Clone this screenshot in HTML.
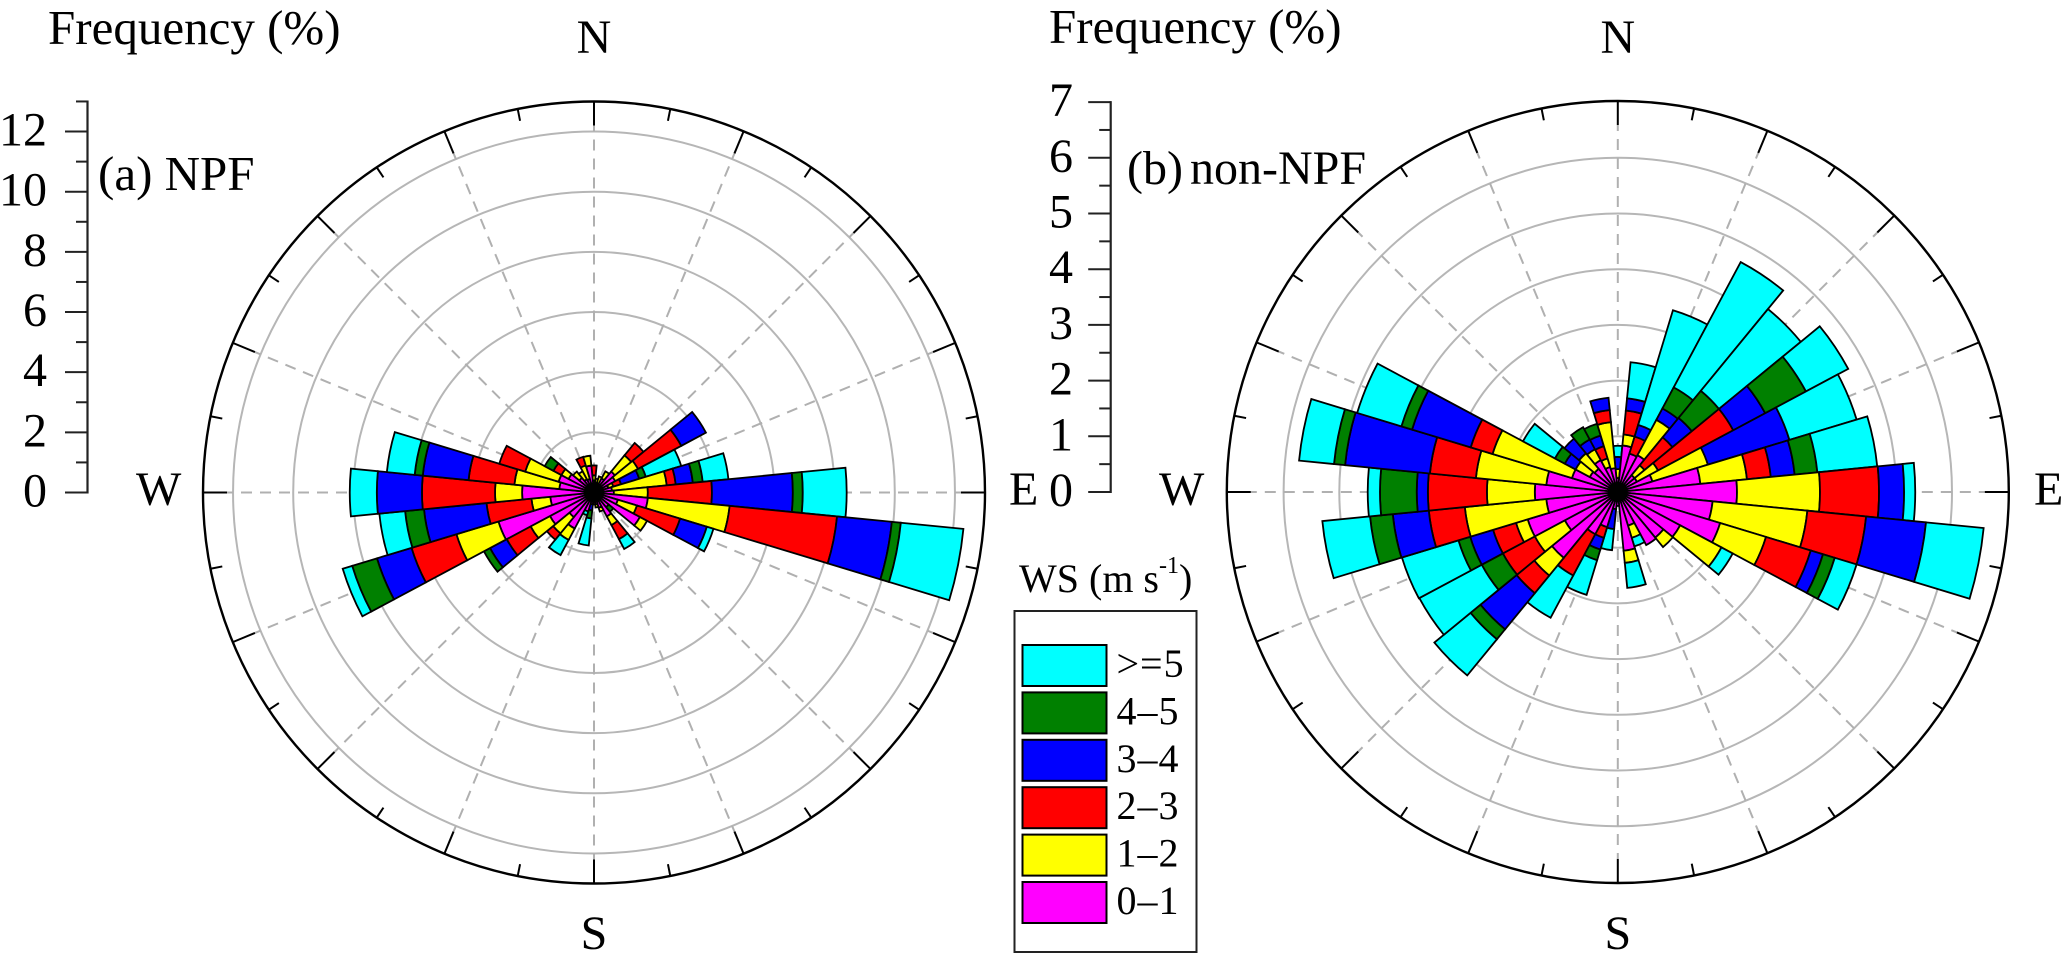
<!DOCTYPE html>
<html>
<head>
<meta charset="utf-8">
<title>Wind rose: NPF and non-NPF</title>
<style>
html,body{margin:0;padding:0;background:#fff;}
svg{display:block;}
text{font-family:"Liberation Serif",serif;fill:#000;}
</style>
</head>
<body>
<svg id="fig" xmlns="http://www.w3.org/2000/svg" width="2067" height="970" viewBox="0 0 2067 970">
<rect x="0" y="0" width="2067" height="970" fill="#fff"/>
<text x="48" y="44" font-size="49">Frequency (%)</text>
<text x="1049" y="43" font-size="49">Frequency (%)</text>
<text x="98" y="190" font-size="49">(a) NPF</text>
<text x="1127" y="184" font-size="48" word-spacing="-5">(b) non-NPF</text>
<text x="1019" y="592" font-size="40">WS (m s<tspan dy="-19" font-size="24">-1</tspan><tspan dy="19">)</tspan></text>
<rect x="1014.5" y="611" width="182" height="341" fill="#fff" stroke="#222" stroke-width="2"/>
</svg>
<script>
// Sector count and wind-speed classes
const sectorCount = 32;
const classNames = ['0-1','1-2','2-3','3-4','4-5','>=5'];
const legendLabels = ['>=5','4–5','3–4','2–3','1–2','0–1'];
const classColors = ['#ff00ff','#ffff00','#ff0000','#0000ff','#008000','#00ffff'];
const compassLabels = ['N','E','S','W'];

// Panel (a) NPF: frequency (%) per sector, clockwise from N
const npfClass01 = [.4,.33,.33,.53,.9,.8,.5,.6,.66,1.8,.83,1.73,.63,.9,.53,.4,.33,.4,.66,1.36,1.06,1.66,3.32,1.46,2.39,1.16,1.23,.96,.63,.5,.47,.9];
const npfClass12 = [.17,.13,.23,.27,.7,.86,.17,1.83,1.13,2.73,.66,.27,0,.33,.13,.1,.07,0,0,.43,.7,.73,1.46,.63,.9,1.5,1.16,.27,.27,.3,.47,.33];
const npfClass23 = [.33,0,0,0,.53,1.63,.27,.3,2.13,3.59,1.5,0,0,.53,0,0,0,0,0,0,.27,.9,1.56,1.5,2.43,1.53,.9,.3,0,0,.3,0];
const npfClass34 = [0,0,0,0,0,.93,.63,.57,2.69,1.83,.93,0,0,0,0,0,0,.2,0,0,0,.63,1.2,2.09,1.5,1.53,0,0,0,0,0,0];
const npfClass45 = [0,0,0,0,0,0,.23,.33,.33,.3,0,0,.2,0,0,0,0,.27,0,0,0,.23,.86,.63,0,.27,0,.33,0,0,0,0];
const npfClass5p = [0,0,0,0,0,0,1.23,.86,1.46,2.09,.23,0,0,.37,0,0,0,.9,.13,.57,0,0,.33,.86,.9,.93,0,0,0,0,0,0];

// Panel (b) non-NPF: frequency (%) per sector, clockwise from N
const nonClass01 = [.25,.84,.72,.75,.39,.39,.65,1.49,2.14,1.71,1.92,1.27,1.06,1.08,.63,1.06,.25,.31,.66,.86,1.53,1.08,1.69,1.29,1.49,1.29,.86,.57,.54,.65,.47,.43];
const nonClass12 = [.16,.2,0,.72,.23,.43,1.04,.84,1.49,1.71,.86,.84,.22,0,.23,.22,0,0,0,0,.41,.61,.22,1.47,.86,1.27,1.49,.29,.36,.22,.16,.83];
const nonClass23 = [0,.43,.32,0,.65,1.53,0,.43,1.06,1.06,.84,0,0,0,0,0,0,0,.2,.84,.41,.65,.43,.65,1.06,.83,.41,0,0,0,.23,.22];
const nonClass34 = [.22,.22,.22,.23,.45,.65,1.53,.43,.45,1.08,.23,0,0,0,0,0,0,.36,.22,0,.84,0,.43,.65,.2,1.53,1.1,.22,.34,.2,.2,.22];
const nonClass45 = [0,0,0,.43,.63,.83,0,.41,0,0,.22,0,0,0,0,0,0,0,.2,0,.23,.43,.22,.41,.66,.2,.2,.2,0,.25,.22,0];
const nonClass5p = [.2,.65,2.15,2.55,1.9,.86,1.26,1.08,.2,1.04,.41,.23,0,0,.16,.45,0,.38,.65,.86,.84,1.27,1.06,.86,.22,.63,.83,.65,0,0,0,0];

// Axis tick values
const npfAxisTicks = [0,1,2,3,4,5,6,7,8,9,10,11,12,13];
const npfAxisLabels = ['0','2','4','6','8','10','12'];
const nonAxisTicks = [0,.5,1,1.5,2,2.5,3,3.5,4,4.5,5,5.5,6,6.5,7];
const nonAxisLabels = ['0','1','2','3','4','5','6','7'];
const npfRings = [2,4,6,8,10,12];
const nonRings = [1,2,3,4,5,6];

const NS = 'http://www.w3.org/2000/svg';
const svg = document.getElementById('fig');
function mk(parent, tag, attrs, txt){
  const e = document.createElementNS(NS, tag);
  for (const k in attrs) e.setAttribute(k, attrs[k]);
  if (txt !== undefined) e.textContent = txt;
  parent.appendChild(e);
  return e;
}
function polar(cx, cy, r, deg){
  const a = deg * Math.PI / 180;
  return [cx + r * Math.sin(a), cy - r * Math.cos(a)];
}
function wedgePath(cx, cy, r0, r1, a0, a1){
  const p1 = polar(cx, cy, r1, a0), p2 = polar(cx, cy, r1, a1);
  let d = 'M';
  if (r0 > 0.01){
    const q1 = polar(cx, cy, r0, a0), q2 = polar(cx, cy, r0, a1);
    d += q1[0].toFixed(2)+' '+q1[1].toFixed(2)+'L'+p1[0].toFixed(2)+' '+p1[1].toFixed(2);
    d += 'A'+r1+' '+r1+' 0 0 1 '+p2[0].toFixed(2)+' '+p2[1].toFixed(2);
    d += 'L'+q2[0].toFixed(2)+' '+q2[1].toFixed(2);
    d += 'A'+r0+' '+r0+' 0 0 0 '+q1[0].toFixed(2)+' '+q1[1].toFixed(2)+'Z';
  } else {
    d += cx+' '+cy+'L'+p1[0].toFixed(2)+' '+p1[1].toFixed(2);
    d += 'A'+r1+' '+r1+' 0 0 1 '+p2[0].toFixed(2)+' '+p2[1].toFixed(2)+'Z';
  }
  return d;
}

function drawRose(cfg){
  const R = 391;
  const g = mk(svg, 'g', {});
  
  
  const rOf = v => v * cfg.scale;

  cfg.rings.forEach(v => {
    const c = mk(g, 'circle', {cx:cfg.cx, cy:cfg.cy, r:rOf(v), fill:'none', stroke:'#b6b6b6', 'stroke-width':2});
    
    
  });
  for (let i = 0; i < 16; i++){
    const p = polar(cfg.cx, cfg.cy, 367, i * 22.5);
    const l = mk(g, 'line', {x1:cfg.cx, y1:cfg.cy, x2:p[0], y2:p[1], stroke:'#b0b0b0', 'stroke-width':2, 'stroke-dasharray':'11 8'});
    
    
  }
  for (let i = 0; i < 32; i++){
    const len = i % 2 === 0 ? 24 : 12;
    const a = polar(cfg.cx, cfg.cy, R, i * 11.25), b = polar(cfg.cx, cfg.cy, R - len, i * 11.25);
    const t = mk(g, 'line', {x1:a[0], y1:a[1], x2:b[0], y2:b[1], stroke:'#000', 'stroke-width':2});
    
    
  }
  const outer = mk(g, 'circle', {cx:cfg.cx, cy:cfg.cy, r:R, fill:'none', stroke:'#000', 'stroke-width':2.4});
  
  

  for (let i = 0; i < sectorCount; i++){
    const step = 360 / sectorCount;
    const a0 = i * step - step / 2, a1 = i * step + step / 2;
    let cum = 0;
    cfg.series.forEach((arr, k) => {
      const v = arr[i];
      if (!v) return;
      const w = mk(g, 'path', {d:wedgePath(cfg.cx, cfg.cy, rOf(cum), rOf(cum + v), a0, a1), fill:classColors[k], stroke:'#000', 'stroke-width':1.8, 'stroke-linejoin':'miter'});
      
      
      cum += v;
    });
  }
  const hub = mk(g, 'circle', {cx:cfg.cx, cy:cfg.cy, r:10, fill:'#000'});
  
  

  const positions = [[cfg.cx, 53, 'middle'],[cfg.eX, 505, 'start'],[cfg.cx, 949, 'middle'],[cfg.wX, 505, 'start']];
  compassLabels.forEach((txt, i) => {
    const c = mk(g, 'text', {x:positions[i][0], y:positions[i][1], 'font-size':48, 'text-anchor':positions[i][2]}, txt);
    
    
  });

  // vertical frequency axis
  const axisY = v => cfg.cy - v * cfg.scale;
  const maxV = cfg.axisTicks[cfg.axisTicks.length - 1];
  const axis = mk(g, 'line', {x1:cfg.axisX, y1:axisY(maxV) - 1, x2:cfg.axisX, y2:axisY(0) + 1, stroke:'#222', 'stroke-width':2.2});
  
  
  cfg.axisTicks.forEach((v, i) => {
    const major = i % 2 === 0;
    const t = mk(g, 'line', {x1:cfg.axisX - (major ? 22.5 : 11.5), y1:axisY(v), x2:cfg.axisX, y2:axisY(v), stroke:'#222', 'stroke-width':2});
    
    
  });
  cfg.axisLabels.forEach((s, i) => {
    const l = mk(g, 'text', {x:cfg.labelX, y:axisY(Number(s)) + 14, 'font-size':48, 'text-anchor':'end'}, s);
    
    
  });
}

drawRose({name:'npf', cx:594, cy:492.5, scale:30.08, rings:npfRings, eX:1009, wX:136, axisX:87.5, labelX:47,
  axisTicks:npfAxisTicks, axisLabels:npfAxisLabels,
  series:[npfClass01,npfClass12,npfClass23,npfClass34,npfClass45,npfClass5p]});
drawRose({name:'non-npf', cx:1617.8, cy:492, scale:55.7, rings:nonRings, eX:2034, wX:1159, axisX:1110.7, labelX:1073,
  axisTicks:nonAxisTicks, axisLabels:nonAxisLabels,
  series:[nonClass01,nonClass12,nonClass23,nonClass34,nonClass45,nonClass5p]});

// Legend
const legendColors = ['#00ffff','#008000','#0000ff','#ff0000','#ffff00','#ff00ff'];
legendLabels.forEach((s, i) => {
  const y = 645 + i * 47.4;
  const sw = mk(svg, 'rect', {x:1022.5, y:y, width:84, height:41, fill:legendColors[i], stroke:'#000', 'stroke-width':2});
  
  
  const t = mk(svg, 'text', {x:1116.5, y:y + 32, 'font-size':40, 'letter-spacing':1}, s);
  
  
});
</script>
</body>
</html>
